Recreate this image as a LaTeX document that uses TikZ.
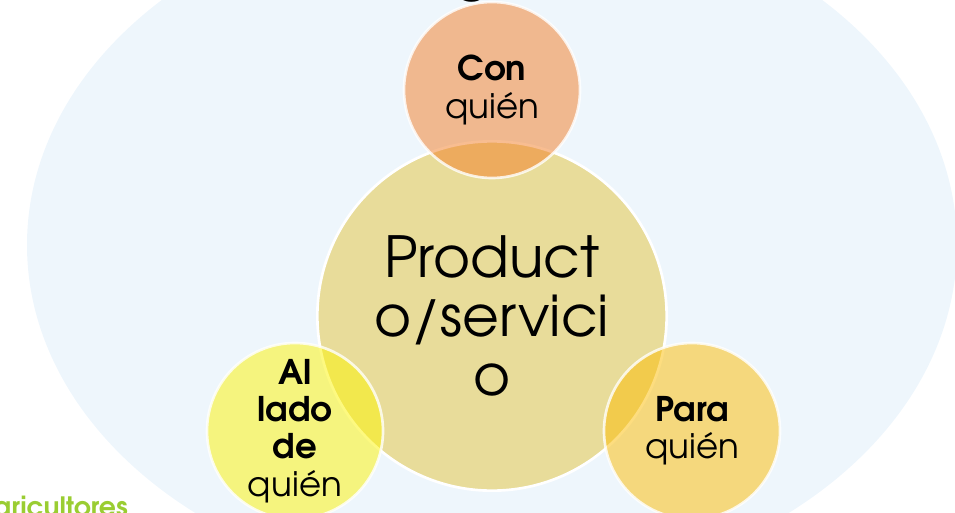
\documentclass[tikz,border=0pt]{standalone}
\usepackage{fontspec}
\setmainfont{TeX Gyre Adventor}
\usetikzlibrary{positioning}
\definecolor{skyback}{RGB}{238,246,252}
\definecolor{prodtan}{RGB}{232,220,154}
\definecolor{conorange}{RGB}{242,124,36}
\definecolor{ladoyellow}{RGB}{252,244,2}
\definecolor{paragold}{RGB}{252,188,0}
\definecolor{agrogreen}{RGB}{154,205,50}
\tikzset{
bubble/.style={circle, draw=white, line width=2pt, inner sep=0pt,
    minimum size=132pt, align=center,
    font=\fontsize{25.5}{28}\selectfont,
    fill opacity=0.5, draw opacity=0.8, text opacity=1},
core/.style={circle, draw=white, line width=2pt, inner sep=0pt,
    minimum size=262pt, align=center, fill=prodtan,
    font=\fontsize{42.5}{44.5}\selectfont}
}

\begin{document}
\begin{tikzpicture}[x=0.75pt,y=-0.75pt]
\useasboundingbox (0,0) rectangle (955,513);
\clip (0,0) rectangle (955,513);
\fill[skyback] (492,245) ellipse [x radius=348.75pt, y radius=261pt];

% centre and the three around it
\node[core] (prod) at (492,316) {Product\\o/servici\\o};
\node[bubble, fill=conorange] (con) at (492,90) {\textbf{Con}\\quién};
\node[bubble, fill=ladoyellow] (lado) at (295,431) {\textbf{Al}\\\textbf{lado}\\\textbf{de}\\quién};
\node[bubble, fill=paragold] (para) at (692,431) {\textbf{Para}\\quién};

% cut off texts at the edges
\node[anchor=south, inner sep=0pt, font=\bfseries\fontsize{40}{40}\selectfont] (titulo) at (472,3) {g};
\node[anchor=base east, inner sep=0pt, text=agrogreen, font=\bfseries\fontsize{20}{20}\selectfont] (agro) at (128,516) {agricultores};
\end{tikzpicture}
\end{document}
